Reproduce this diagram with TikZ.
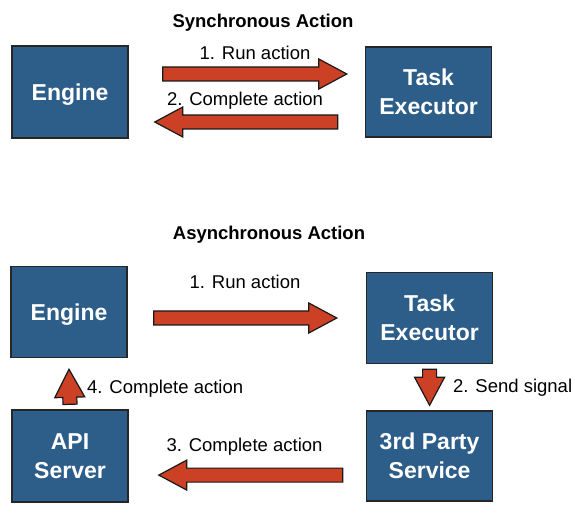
\documentclass[tikz,border=0pt]{standalone}
\usepackage{fontspec}
\setmainfont{Liberation Sans}
\usepackage{tikz}
\usetikzlibrary{positioning, calc}
\usepackage{xcolor}
\definecolor{boxblue}{HTML}{2D5E89}
\definecolor{arrowred}{HTML}{CC4125}

\begin{document}
\begin{tikzpicture}[x=1pt,y=-1pt,
    box/.style={draw=black!85, fill=boxblue, line width=1.6pt, text=white, align=center,
      font=\fontsize{23}{29}\selectfont\bfseries, text depth=0pt,
      minimum width=116pt, minimum height=91pt, inner sep=0pt},
    wide/.style={box, minimum width=126pt},
    lbl/.style={font=\fontsize{18.5}{22}\selectfont, anchor=base, inner sep=0pt},
    title/.style={lbl, font=\fontsize{18.5}{22}\selectfont\bfseries},
    fat/.style={draw=black!90, fill=arrowred, line width=1.2pt, line join=miter,
      to path={($(\tikztotarget)!28pt!(\tikztostart)$) coordinate (fatbase)
        ($(\tikztostart)!7pt!90:(\tikztotarget)$)
        -- ($(fatbase)!7pt!90:(\tikztotarget)$)
        -- ($(fatbase)!15pt!90:(\tikztotarget)$)
        -- (\tikztotarget)
        -- ($(fatbase)!15pt!-90:(\tikztotarget)$)
        -- ($(fatbase)!7pt!-90:(\tikztotarget)$)
        -- ($(\tikztostart)!7pt!-90:(\tikztotarget)$) -- cycle}}]
    \useasboundingbox (0,0) rectangle (584,521);

    \node[title] (t1) at (263,28) {Synchronous Action};
    \node[box, minimum height=92pt] (eng) at (70,92) {Engine};
    \node[wide, minimum height=90pt] (exec) [right=236pt of eng] {Task\\Executor};
    \draw[fat] ([xshift=34pt,yshift=18pt]eng.east) to ([xshift=-18pt,yshift=18pt]exec.west);
    \draw[fat] ([xshift=-27pt,yshift=-30pt]exec.west) to ([xshift=26pt,yshift=-30pt]eng.east);
    \node[lbl] (l1) at (255,59.6) {1. Run action};
    \node[lbl] (l2) at (245,105.6) {2. Complete action};

    \node[title] (t2) at (269,240) {Asynchronous Action};
    \node[box] (eng2) at (69,312) {Engine};
    \node[wide] (exec2) [right=238pt of eng2, yshift=-6pt] {Task\\Executor};
    \node[wide, minimum height=90pt] (third) [below=46pt of exec2] {3rd Party\\Service};
    \node[box, minimum height=92pt] (api) [left=237pt of third] {API\\Server};
    \draw[fat] ([xshift=26pt,yshift=-6pt]eng2.east) to ([xshift=-29pt]exec2.west);
    \draw[fat] ([yshift=-5pt]exec2.south) to ([yshift=5pt]third.north);
    \draw[fat] ([xshift=-23pt,yshift=-19pt]third.west) to ([xshift=30pt,yshift=-19pt]api.east);
    \draw[fat] ([yshift=5pt]api.north) to ([yshift=-11pt]eng2.south);
    \node[lbl] (l3) at (245,288.6) {1. Run action};
    \node[lbl, anchor=base west] (l4) at (453,392.6) {2. Send signal};
    \node[lbl] (l5) at (244.5,451.6) {3. Complete action};
    \node[lbl, anchor=base west] (l6) at (87,393.6) {4. Complete action};
\end{tikzpicture}
\end{document}
